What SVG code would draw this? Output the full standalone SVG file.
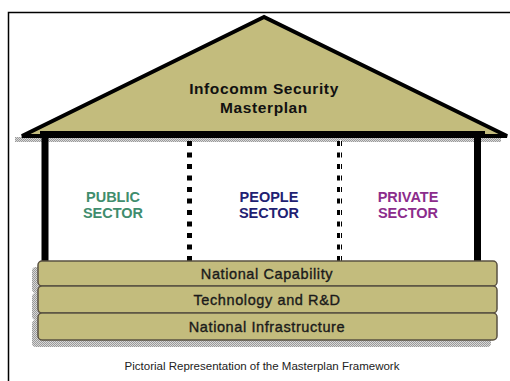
<svg xmlns="http://www.w3.org/2000/svg" width="510" height="381" viewBox="0 0 510 381">
  <defs>
    <!-- dithered grey used for the drop shadows -->
    <pattern id="dither" width="2" height="2" patternUnits="userSpaceOnUse">
      <rect width="2" height="2" fill="#d8d8d8"/>
      <rect width="1" height="1" fill="#9a9a9a"/>
      <rect x="1" y="1" width="1" height="1" fill="#9a9a9a"/>
    </pattern>
    <style>
      .layer { fill: #c3bc7d; stroke: #5a5141; stroke-width: 1.5; }
      .shadow { fill: url(#dither); }
      .pillar { fill: #000; }
      .divider { stroke: #000; stroke-width: 5; stroke-dasharray: 5 6.5; fill: none; }
      .roof-label { font-family: "Liberation Sans", Arial, sans-serif; font-weight: bold; font-size: 15.5px; letter-spacing: 0.6px; fill: #111; text-anchor: middle; }
      .sector { font-family: "Liberation Sans", Arial, sans-serif; font-weight: bold; font-size: 14.5px; text-anchor: middle; }
      .layer-label { font-family: "Liberation Sans", Arial, sans-serif; font-size: 14.5px; letter-spacing: 0.6px; fill: #1a1a1a; stroke: #1a1a1a; stroke-width: 0.35; text-anchor: middle; }
      .caption { font-family: "Liberation Sans", Arial, sans-serif; font-size: 11.5px; fill: #222; text-anchor: middle; }
    </style>
  </defs>

  <rect width="510" height="381" fill="#fff"/>

  <!-- outer frame (runs off the right and bottom edges) -->
  <rect x="8.5" y="12.5" width="600" height="420" fill="none" stroke="#000" stroke-width="1.5"/>

  <!-- roof -->
  <g id="roof">
    <rect class="shadow" x="15" y="137" width="486" height="5"/>
    <polygon points="264,17 22,136 507,136" fill="#c3bc7d" stroke="#000" stroke-width="4" stroke-linejoin="miter"/>
    <rect x="40" y="131" width="445" height="7" fill="#000"/>
    <text class="roof-label" x="264" y="94">Infocomm Security</text>
    <text class="roof-label" x="264" y="113">Masterplan</text>
  </g>

  <!-- outer pillars -->
  <g id="pillars">
    <rect class="pillar" x="41.5" y="137" width="7" height="125"/>
    <rect class="pillar" x="474" y="137" width="7" height="125"/>
  </g>

  <!-- dotted sector dividers -->
  <g id="connectors">
    <line class="divider" x1="189.5" y1="141" x2="189.5" y2="262"/>
    <line class="divider" x1="339.5" y1="141" x2="339.5" y2="262" stroke-width="6"/>
    <line x1="340.5" y1="140" x2="340.5" y2="262" stroke="#fff" stroke-width="1"/>
  </g>

  <g id="public-sector">
    <text class="sector" x="113" y="202" fill="#3f8d6d">PUBLIC</text>
    <text class="sector" x="113" y="218" fill="#3f8d6d">SECTOR</text>
  </g>
  <g id="people-sector">
    <text class="sector" x="269" y="202" fill="#1f2172">PEOPLE</text>
    <text class="sector" x="269" y="218" fill="#1f2172">SECTOR</text>
  </g>
  <g id="private-sector">
    <text class="sector" x="408" y="202" fill="#8c2c8c">PRIVATE</text>
    <text class="sector" x="408" y="218" fill="#8c2c8c">SECTOR</text>
  </g>

  <!-- foundation layers -->
  <g id="layer-shadows">
    <rect class="shadow" x="32" y="267" width="459" height="26" rx="4"/>
    <rect class="shadow" x="32" y="293" width="459" height="27" rx="4"/>
    <rect class="shadow" x="32" y="320" width="459" height="27" rx="4"/>
  </g>
  <g id="national-capability">
    <rect class="layer" x="38" y="261" width="459" height="25" rx="4"/>
    <text class="layer-label" x="267" y="278.5">National Capability</text>
  </g>
  <g id="technology-rd">
    <rect class="layer" x="38" y="286" width="459" height="27" rx="4"/>
    <text class="layer-label" x="267" y="305">Technology and R&amp;D</text>
  </g>
  <g id="national-infrastructure">
    <rect class="layer" x="38" y="313" width="459" height="27" rx="4"/>
    <text class="layer-label" x="267" y="332">National Infrastructure</text>
  </g>

  <g id="caption">
    <text class="caption" x="262" y="370">Pictorial Representation of the Masterplan Framework</text>
  </g>
</svg>
